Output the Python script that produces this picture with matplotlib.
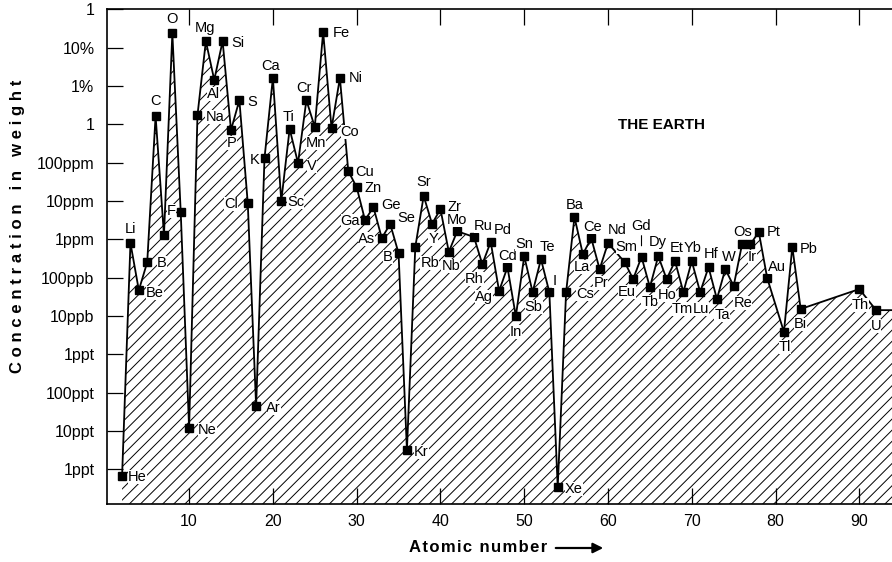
import numpy as np
import matplotlib
matplotlib.use("Agg")
import matplotlib.pyplot as plt
from matplotlib.ticker import FixedLocator, NullLocator

# ---------------- data ----------------
atomic_number = [2, 3, 4, 5, 6, 7, 8, 9, 10, 11, 12, 13, 14, 15, 16, 17, 18, 19, 20,
                 21, 22, 23, 24, 25, 26, 27, 28, 29, 30, 31, 32, 33, 34, 35, 36, 37,
                 38, 39, 40, 41, 42, 44, 45, 46, 47, 48, 49, 50, 51, 52, 53, 54, 55,
                 56, 57, 58, 59, 60, 62, 63, 64, 65, 66, 67, 68, 69, 70, 71, 72, 73,
                 74, 75, 76, 77, 78, 79, 81, 82, 83, 90, 92]
symbols = ["He", "Li", "Be", "B", "C", "", "O", "F", "Ne", "Na", "Mg", "Al", "Si", "P",
           "S", "Cl", "Ar", "K", "Ca", "Sc", "Ti", "V", "Cr", "Mn", "Fe", "Co", "Ni",
           "Cu", "Zn", "Ga", "Ge", "As", "Se", "B ", "Kr", "Rb", "Sr", "Y", "Zr", "Nb",
           "Mo", "Ru", "Rh", "Pd", "Ag", "Cd", "In", "Sn", "Sb", "Te", "I", "Xe", "Cs",
           "Ba", "La", "Ce", "Pr", "Nd", "Sm", "Eu", "Gd", "Tb", "Dy", "Ho", "Et", "Tm",
           "Yb", "Lu", "Hf", "Ta", "W", "Re", "Os", "Ir", "Pt", "Au", "Tl", "Pb", "Bi",
           "Th", "U"]
# log10 of weight fraction
log_conc = [-12.18, -6.10, -7.33, -6.60, -2.78, -5.89, -0.62, -5.29, -10.93, -2.76,
            -0.83, -1.84, -0.83, -3.15, -2.37, -5.05, -10.36, -3.88, -1.79, -5.00,
            -3.12, -4.01, -2.37, -3.07, -0.59, -3.10, -1.79, -4.22, -4.64, -5.50,
            -5.16, -5.97, -5.60, -6.36, -11.50, -6.20, -4.87, -5.60, -5.21, -6.33,
            -5.79, -5.94, -6.65, -6.07, -7.35, -6.73, -8.01, -6.44, -7.38, -6.52,
            -7.38, -12.47, -7.38, -5.42, -6.39, -5.97, -6.78, -6.10, -6.60, -7.04,
            -6.46, -7.25, -6.44, -7.04, -6.57, -7.38, -6.57, -7.38, -6.73, -7.56,
            -6.78, -7.22, -6.13, -6.13, -5.81, -7.01, -8.42, -6.20, -7.82, -7.30,
            -7.85]
y_tick_exp = list(range(0, -13, -1))
y_tick_labels = ["1", "10%", "1%", "1", "100ppm", "10ppm", "1ppm", "100ppb",
                 "10ppb", "1ppt", "100ppt", "10ppt", "1ppt"]
x_ticks = [10, 20, 30, 40, 50, 60, 70, 80, 90]

# label placement (ha, dx px, dy px downward)
label_pos = {
    "He": ("left", 6, 1), "Li": ("center", 0, -14), "Be": ("left", 7, 3),
    "B": ("left", 10, 1), "C": ("center", 0, -15), "O": ("center", 0, -14),
    "F": ("right", -5, -1), "Ne": ("left", 9, 2), "Na": ("left", 8, 2),
    "Mg": ("center", -1, -13), "Al": ("center", -1, 14), "Si": ("left", 9, 2),
    "P": ("center", 1, 13), "S": ("left", 8, 2), "Cl": ("right", -10, 1),
    "Ar": ("left", 10, 2), "K": ("right", -5, 2), "Ca": ("center", -2, -12),
    "Sc": ("left", 6, 1), "Ti": ("center", -1, -12), "V": ("left", 9, 3),
    "Cr": ("center", -2, -12), "Mn": ("center", 1, 16), "Fe": ("left", 10, 1),
    "Co": ("left", 9, 4), "Ni": ("left", 9, 0), "Cu": ("left", 7, 1),
    "Zn": ("left", 8, 1), "Ga": ("right", -5, 1), "Ge": ("left", 8, -2),
    "As": ("right", -7, 1), "Se": ("left", 7, -6), "B ": ("right", -6, 4),
    "Kr": ("left", 7, 2), "Rb": ("left", 5, 16), "Sr": ("center", 0, -14),
    "Y": ("center", 1, 15), "Zr": ("left", 7, -2), "Nb": ("center", 2, 14),
    "Mo": ("center", 0, -11), "Ru": ("center", 9, -11), "Rh": ("center", -8, 15),
    "Pd": ("center", 12, -12), "Ag": ("center", -15, 6), "Cd": ("center", 0, -11),
    "In": ("center", 0, 16), "Sn": ("center", 0, -12), "Sb": ("center", 1, 15),
    "Te": ("center", 6, -12), "I": ("center", 5, -11), "Xe": ("left", 7, 2),
    "Cs": ("left", 10, 2), "Ba": ("center", 0, -12), "La": ("center", -1, 13),
    "Ce": ("center", 1, -11), "Pr": ("center", 1, 14), "Nd": ("center", 9, -13),
    "Sm": ("center", 2, -15), "Eu": ("center", -6, 13), "Gd": ("center", 0, -31),
    "Tb": ("center", 0, 15), "Dy": ("center", -1, -14), "Ho": ("center", 0, 16),
    "Et": ("center", 2, -13), "Tm": ("center", -1, 17), "Yb": ("center", 1, -13),
    "Lu": ("center", 1, 17), "Hf": ("center", 3, -13), "Ta": ("center", 5, 16),
    "W": ("center", 4, -12), "Re": ("center", 9, 17), "Os": ("center", 1, -12),
    "Ir": ("center", 2, 13), "Pt": ("left", 8, 0), "Au": ("center", 10, -11),
    "Tl": ("center", 1, 15), "Pb": ("left", 7, 2), "Bi": ("center", 0, 15),
    "Th": ("center", 1, 16), "U": ("center", 0, 16),
}

# ---------------- style ----------------
plt.rcParams['font.family'] = ['Liberation Sans', 'DejaVu Sans']
plt.rcParams['hatch.linewidth'] = 0.7
plt.rcParams['hatch.color'] = 'black'

W, H = 892, 562
fig = plt.figure(figsize=(W / 100, H / 100), dpi=100)
ax = fig.add_axes([107 / W, 1 - 504 / H, 1 - 107 / W, (504 - 9.4) / H])

x_min, x_max = 0.2, 93.9
y_min, y_max = 10 ** -12.91, 1.0

Z = np.array(atomic_number, dtype=float)
V = 10.0 ** np.array(log_conc)
Z_ext = np.append(Z, x_max)
V_ext = np.append(V, V[-1])

ax.fill_between(Z_ext, V_ext, y_min, facecolor='white', edgecolor='black',
                hatch='///', linewidth=0, zorder=1)
ax.plot(Z_ext, V_ext, color='black', lw=1.3, zorder=3)
ax.plot(Z, V, linestyle='none', marker='s', ms=6.2, color='black', zorder=4)

ax.set_yscale('log')
ax.set_xlim(x_min, x_max)
ax.set_ylim(y_min, y_max)
ax.yaxis.set_major_locator(FixedLocator([10.0 ** e for e in y_tick_exp]))
ax.yaxis.set_minor_locator(NullLocator())
ax.set_yticklabels(y_tick_labels)
ax.set_xticks(x_ticks)
ax.set_xticklabels([str(t) for t in x_ticks])
ax.tick_params(axis='both', which='major', direction='in', length=11.5, width=0.9,
               labelsize=11.5)
ax.tick_params(axis='y', pad=9, left=True, right=False)
ax.tick_params(axis='x', pad=7, top=True, bottom=True)
for s in ['left', 'bottom', 'top']:
    ax.spines[s].set_linewidth(1.2)
ax.spines['right'].set_visible(False)

bbox = dict(boxstyle='square,pad=0.0', fc='white', ec='none')
for z, v, s in zip(Z, V, symbols):
    if not s:
        continue
    ha, dx, dy = label_pos[s]
    kw = {}
    if s == "Gd":
        kw['arrowprops'] = dict(arrowstyle='-', color='black', lw=0.8,
                                shrinkA=2, shrinkB=8)
    ax.annotate(s.strip(), (z, v), xytext=(dx, -dy), textcoords='offset pixels',
                ha=ha, va='center', fontsize=10.5, bbox=bbox, zorder=5, **kw)


def spaced(t, sep):
    return sep.join(t)


fig.text(662 / W, 1 - 125 / H, "THE EARTH", ha='center', va='center',
         fontsize=11, fontweight='bold')
fig.text(18 / W, 1 - 226 / H, spaced("Concentration in weight", '\u2009\u200a'),
         rotation=90, ha='center', va='center', fontsize=12, fontweight='bold')
fig.text(478 / W, 1 - 548 / H, spaced("Atomic number", '\u200a'),
         ha='center', va='center', fontsize=12, fontweight='bold')
fig.add_artist(matplotlib.patches.FancyArrowPatch(
    (553 / W, 1 - 548 / H), (606 / W, 1 - 548 / H), transform=fig.transFigure,
    arrowstyle='-|>,head_length=6,head_width=3', mutation_scale=1,
    color='black', lw=1.6))

fig.savefig("out.png", dpi=100)
